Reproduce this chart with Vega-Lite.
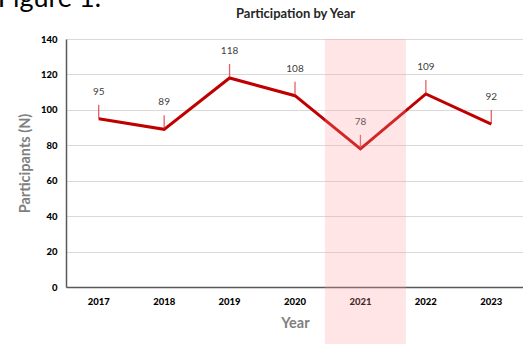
{
  "$schema": "https://vega.github.io/schema/vega-lite/v6.json",
  "width": 458,
  "height": 248,
  "autosize": {"type": "none"},
  "padding": {"left": 66, "top": 39, "right": 0, "bottom": 57},
  "background": "white",
  "config": {
    "view": {"stroke": null},
    "axis": {
      "labelFont": "Lato",
      "labelFontWeight": 900,
      "labelFontSize": 9.5,
      "labelColor": "#000000",
      "labelOverlap": false,
      "titleFont": "Lato",
      "titleFontWeight": "bold",
      "titleFontSize": 14.5,
      "titleColor": "#7f7f7f",
      "domainColor": "#595959",
      "domainWidth": 1.5,
      "ticks": false,
      "gridColor": "#d9d9d9",
      "gridWidth": 1
    },
    "axisX": {"grid": false}
  },
  "resolve": {"axis": {"x": "independent"}},
  "data": {
    "values": [
      {"Year": "2017", "N": 95},
      {"Year": "2018", "N": 89},
      {"Year": "2019", "N": 118},
      {"Year": "2020", "N": 108},
      {"Year": "2021", "N": 78},
      {"Year": "2022", "N": 109},
      {"Year": "2023", "N": 92}
    ]
  },
  "layer": [
    {
      "mark": {"type": "line", "color": "#c00000", "strokeWidth": 3},
      "encoding": {
        "x": {
          "field": "Year",
          "type": "ordinal",
          "scale": {"type": "band", "paddingInner": 0, "paddingOuter": 0},
          "axis": {"labelAngle": 0, "labelPadding": 9, "titlePadding": 11, "title": "Year"}
        },
        "y": {
          "field": "N",
          "type": "quantitative",
          "scale": {"domain": [0, 140], "nice": false},
          "axis": {
            "values": [0, 20, 40, 60, 80, 100, 120, 140],
            "tickCount": 10,
            "grid": true,
            "labelPadding": 9,
            "titlePadding": 8,
            "title": "Participants (N)"
          }
        }
      }
    },
    {
      "mark": {"type": "tick", "orient": "vertical", "size": 14, "thickness": 1.3, "yOffset": -7, "color": "#d42020"},
      "encoding": {
        "x": {"field": "Year", "type": "ordinal", "axis": null},
        "y": {"field": "N", "type": "quantitative"}
      }
    },
    {
      "mark": {"type": "text", "font": "Lato", "fontSize": 10, "color": "#404040", "dy": -27, "baseline": "middle"},
      "encoding": {
        "x": {"field": "Year", "type": "ordinal", "axis": null},
        "y": {"field": "N", "type": "quantitative"},
        "text": {"field": "N", "type": "quantitative"}
      }
    },
    {
      "data": {"values": [{"Year": "2021"}]},
      "mark": {"type": "bar", "width": 81, "xOffset": 5, "color": "#ff9a9a", "opacity": 0.26, "clip": false},
      "encoding": {
        "x": {
          "field": "Year",
          "type": "ordinal",
          "axis": {
            "orient": "top",
            "title": "Participation by Year",
            "titleColor": "#262626",
            "titleFontSize": 13,
            "titlePadding": 19,
            "labels": false,
            "domain": false,
            "grid": false
          }
        },
        "y": {"datum": 140, "type": "quantitative"},
        "y2": {"datum": -33}
      }
    },
    {
      "data": {"values": [{"Year": "2017", "caption": "Figure 1:"}]},
      "mark": {"type": "text", "font": "Lato", "fontSize": 27, "color": "#000000", "align": "left", "baseline": "alphabetic", "dx": -101},
      "encoding": {
        "x": {"field": "Year", "type": "ordinal", "axis": null},
        "y": {"datum": 158, "type": "quantitative"},
        "text": {"field": "caption", "type": "nominal"}
      }
    }
  ]
}
